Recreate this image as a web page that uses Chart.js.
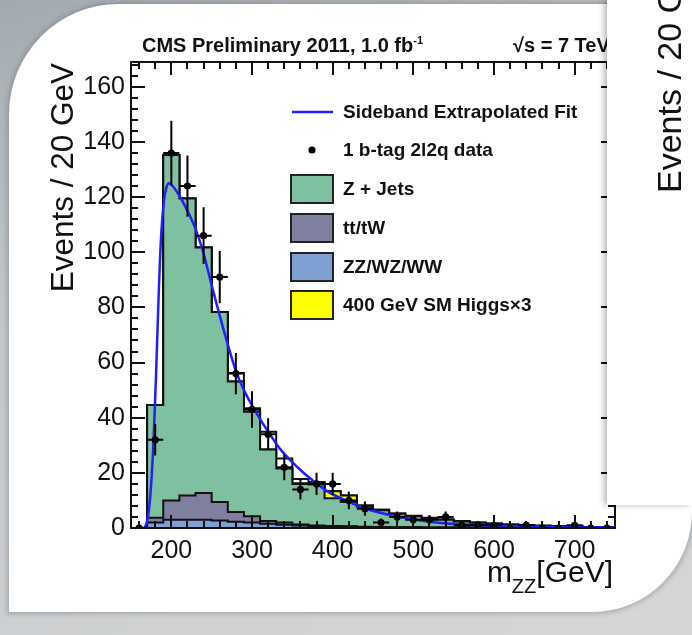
<!DOCTYPE html>
<html>
<head>
<meta charset="utf-8">
<script src="https://cdn.jsdelivr.net/npm/chart.js@4.4.0/dist/chart.umd.min.js"></script>
<style>
html,body{margin:0;padding:0;width:692px;height:635px;overflow:hidden;}
body{position:relative;background:linear-gradient(160deg,#a3aaaf 0%,#c3c7ca 35%,#d6d7d8 100%);font-family:"Liberation Sans",Arial,sans-serif;}
#card{position:absolute;left:9px;top:4px;width:683px;height:608px;background:#fff;border-top-left-radius:110px;border-bottom-right-radius:100px;box-shadow:0 0 5px 2px rgba(90,95,100,0.35);}
#c{position:absolute;left:0;top:0;}
#side{position:absolute;left:607px;top:0;width:85px;height:505px;background:#fff;box-shadow:-3px 0 6px rgba(0,0,0,0.28);overflow:hidden;}
#side span{position:absolute;left:45px;top:-80px;height:273px;font-size:34px;line-height:34px;writing-mode:vertical-rl;transform:rotate(180deg);color:#111;white-space:nowrap;}
</style>
</head>
<body>
<div id="card"></div>
<canvas id="c" width="692" height="635" style="width:692px;height:635px"></canvas>
<div id="side"><span>Events / 20 GeV</span></div>
<script>
// ---------- data ----------
const xTickLabels = [200, 300, 400, 500, 600, 700];
const yTickLabels = [0, 20, 40, 60, 80, 100, 120, 140, 160];

// histogram bins (lower edges), 20 GeV wide
const binLow = [170,190,210,230,250,270,290,310,330,350,370,390,410,430,450,470,490,510,530,550,570,590,610,630,650,670,690,710,730];
const zzWzWw = [2.0,3.0,3.0,3.0,2.7,2.3,2.0,1.5,1.2,0.9,0.7,0.6,0.5,0.4,0.35,0.3,0.25,0.2,0.2,0.15,0.1,0.1,0.1,0.1,0.05,0.05,0.05,0.05,0.05];
const ttTw   = [1.7,7.0,8.8,9.7,6.7,3.5,2.3,1.0,0.8,0.4,0.2,0.1,0.1,0.05,0.05,0,0,0,0,0,0,0,0,0,0,0,0,0,0];
const zJets  = [40.9,125.3,107.7,89.0,68.9,47.3,37.9,26.0,19.6,14.7,14.9,10.1,8.8,7.25,6.0,4.9,4.05,3.4,2.8,2.25,1.8,1.4,1.1,0.9,0.75,0.55,0.45,0.35,0.25];
const higgs  = [0,0,0,0,0,0,0,0,0,0.2,0.5,2.5,2.4,0.5,0.2,0,0,0,0,0,0,0,0,0,0,0,0,0,0];
const totalOutline = [44.6,135.3,119.5,101.7,78.3,56.2,43.4,34.9,25.2,17.8,16.7,13.3,11.8,8.2,6.6,5.3,4.4,3.7,3.1,2.5,2.0,1.6,1.3,1.0,0.8,0.65,0.5,0.4,0.3];

// data points
const dataMass   = [160,180,200,220,240,260,280,300,320,340,360,380,400,420,440,460,480,500,520,540,560,580,600,620,640,660,680,700,720,740];
const dataEvents = [0,32,136,124,106,91,56,43,34,22,14,16,16,10,7,2,4,3,3,4,1,1,1,0,1,0,0,1,0,0];
const dataErr    = [0,5.7,11.7,11.1,10.3,9.5,7.5,6.6,5.8,4.7,3.7,4,4,3.2,2.6,1.4,2,1.7,1.7,2,1,1,1,0,1,0,0,1,0,0];

// sideband extrapolated fit curve
const fitMass   = [166,169,172,175,178,181,184,187,191,194,197,200,210,220,230,240,250,260,270,280,290,300,310,320,335,355,375,395,415,435,455,480,520,560,600,650,700,750];
const fitEvents = [0,1.5,6,16,32,55,82,104,119,123.5,125,124.5,120.5,115,108.5,99.5,88,77,66.5,57,50,44.5,39.5,35,28.6,22.4,17.3,13,10.2,7.6,5.8,4.2,2.3,1.3,0.8,0.5,0.3,0.2];

// ---------- styling ----------
const FONT = '"Liberation Sans", Arial, Helvetica, sans-serif';
const C_ZJ = '#7fc0a0', C_TT = '#7f7f9f', C_ZZ = '#7fa0d2', C_H = '#ffff00', C_FIT = '#1f1fff';
const BIN_W = 20;

// build step tables
function cumulative(...arrs) {
  return arrs[0].map((_, i) => arrs.reduce((s, a) => s + a[i], 0));
}
function steps(vals) {
  const pts = [{x: binLow[0], y: 0}];
  vals.forEach((v, i) => pts.push({x: binLow[i], y: v}));
  const last = binLow[binLow.length - 1] + BIN_W;
  pts.push({x: last, y: vals[vals.length - 1]});
  pts.push({x: last, y: 0});
  return pts;
}
const cumZZ = zzWzWw;
const cumTT = cumulative(zzWzWw, ttTw);
const cumZJ = cumulative(zzWzWw, ttTw, zJets);
const cumH  = cumulative(zzWzWw, ttTw, zJets, higgs);

function histDS(label, vals, color) {
  return {label, data: steps(vals), stepped: true, fill: 'origin', backgroundColor: color,
          borderColor: '#111', borderWidth: 2, pointRadius: 0, tension: 0};
}

const datasets = [
  {label: '1 b-tag 2l2q data', data: dataMass.map((m, i) => ({x: m, y: dataEvents[i]})),
   showLine: false, pointRadius: 3.6, pointBackgroundColor: '#000', pointBorderWidth: 0, borderColor: '#000'},
  {label: 'Sideband Extrapolated Fit', data: fitMass.map((m, i) => ({x: m, y: fitEvents[i]})),
   borderColor: C_FIT, borderWidth: 2.5, pointRadius: 0, cubicInterpolationMode: 'monotone', fill: false},
  histDS('ZZ/WZ/WW', cumZZ, C_ZZ),
  histDS('tt/tW', cumTT, C_TT),
  histDS('Z + Jets', cumZJ, C_ZJ),
  histDS('400 GeV SM Higgs\u00d73', cumH, C_H),
  histDS('', totalOutline, '#ffffff')
];

// ---------- plugins ----------
const errorBars = {
  id: 'errorBars',
  afterDatasetsDraw(chart) {
    const {ctx, chartArea: a, scales: {x, y}} = chart;
    ctx.save();
    ctx.beginPath(); ctx.rect(a.left, a.top, a.right - a.left, a.bottom - a.top); ctx.clip();
    ctx.strokeStyle = '#000'; ctx.lineWidth = 2;
    dataMass.forEach((m, i) => {
      const e = dataErr[i];
      if (e <= 0) return;
      const px = x.getPixelForValue(m), py = y.getPixelForValue(dataEvents[i]);
      ctx.beginPath();
      ctx.moveTo(px, y.getPixelForValue(dataEvents[i] - e));
      ctx.lineTo(px, y.getPixelForValue(dataEvents[i] + e));
      ctx.moveTo(x.getPixelForValue(m - BIN_W / 2), py);
      ctx.lineTo(x.getPixelForValue(m + BIN_W / 2), py);
      ctx.stroke();
    });
    ctx.restore();
  }
};

const frame = {
  id: 'frame',
  afterDraw(chart) {
    const {ctx, chartArea: a, scales: {x, y}} = chart;
    ctx.save();
    ctx.strokeStyle = '#111'; ctx.lineWidth = 2;
    ctx.strokeRect(a.left, a.top, a.right - a.left, a.bottom - a.top);
    ctx.beginPath();
    for (let v = 160; v < 750; v += 20) {
      const major = v % 100 === 0;
      const L = major ? 13 : 7;
      const px = Math.round(x.getPixelForValue(v));
      ctx.moveTo(px, a.bottom); ctx.lineTo(px, a.bottom - L);
      ctx.moveTo(px, a.top); ctx.lineTo(px, a.top + L);
    }
    for (let v = 4; v < 169; v += 4) {
      const major = v % 20 === 0;
      const L = major ? 14 : 7;
      const py = Math.round(y.getPixelForValue(v));
      ctx.moveTo(a.left, py); ctx.lineTo(a.left + L, py);
      ctx.moveTo(a.right, py); ctx.lineTo(a.right - L, py);
    }
    ctx.stroke();
    ctx.restore();
  }
};

const texts = {
  id: 'texts',
  afterDraw(chart) {
    const {ctx} = chart;
    ctx.save();
    ctx.fillStyle = '#111';
    ctx.textBaseline = 'alphabetic';
    // header
    ctx.font = 'bold 20px ' + FONT;
    ctx.textAlign = 'left';
    ctx.fillText('CMS Preliminary 2011, 1.0 fb', 142, 52);
    const w = ctx.measureText('CMS Preliminary 2011, 1.0 fb').width;
    ctx.font = 'bold 11px ' + FONT;
    ctx.fillText('-1', 142 + w, 44);
    ctx.font = 'bold 20px ' + FONT;
    ctx.fillText('\u221As = 7 TeV', 513, 52);
    // y title
    ctx.save();
    ctx.translate(73, 63);
    ctx.rotate(-Math.PI / 2);
    ctx.font = '31.5px ' + FONT;
    ctx.textAlign = 'right';
    ctx.fillText('Events / 20 GeV', 0, 0);
    ctx.restore();
    // x title  m_ZZ [GeV]
    ctx.textAlign = 'right';
    ctx.font = '30px ' + FONT;
    let xr = 613;
    ctx.fillText('[GeV]', xr, 582);
    xr -= ctx.measureText('[GeV]').width;
    ctx.font = '20px ' + FONT;
    ctx.fillText('ZZ', xr, 593);
    xr -= ctx.measureText('ZZ').width;
    ctx.font = '30px ' + FONT;
    ctx.fillText('m', xr, 582);
    ctx.restore();
  }
};

const legendOrder = ['Sideband Extrapolated Fit', '1 b-tag 2l2q data', 'Z + Jets', 'tt/tW', 'ZZ/WZ/WW', '400 GeV SM Higgs\u00d73'];
const insideLegend = {
  id: 'insideLegend',
  afterDraw(chart) {
    const {ctx} = chart;
    const rows = [112, 150, 189, 228, 267, 305];
    ctx.save();
    ctx.font = 'bold 19px ' + FONT;
    ctx.textBaseline = 'middle';
    ctx.textAlign = 'left';
    legendOrder.forEach((lab, i) => {
      const ds = chart.data.datasets.find(d => d.label === lab);
      const yc = rows[i];
      if (lab === 'Sideband Extrapolated Fit') {
        ctx.strokeStyle = ds.borderColor; ctx.lineWidth = 2.5;
        ctx.beginPath(); ctx.moveTo(292, yc); ctx.lineTo(333, yc); ctx.stroke();
      } else if (lab === '1 b-tag 2l2q data') {
        ctx.fillStyle = '#000';
        ctx.beginPath(); ctx.arc(312, yc, 3.6, 0, Math.PI * 2); ctx.fill();
      } else {
        ctx.fillStyle = ds.backgroundColor;
        ctx.fillRect(291, yc - 14, 42, 28);
        ctx.strokeStyle = '#222'; ctx.lineWidth = 2;
        ctx.strokeRect(291, yc - 14, 42, 28);
      }
      ctx.fillStyle = '#111';
      ctx.fillText(lab, 343, yc + 1);
    });
    ctx.restore();
  }
};

new Chart(document.getElementById('c'), {
  type: 'line',
  data: {datasets},
  options: {
    responsive: false,
    animation: false,
    devicePixelRatio: 1,
    layout: {padding: {top: 62, right: 77, left: 0, bottom: 0}},
    plugins: {legend: {display: false}, tooltip: {enabled: false}, title: {display: false}},
    scales: {
      x: {
        type: 'linear', min: 150, max: 750,
        grid: {display: false, drawTicks: false}, border: {display: false},
        ticks: {font: {family: FONT, size: 25}, color: '#111', padding: 8, maxRotation: 0, autoSkip: false},
        afterBuildTicks: s => { s.ticks = xTickLabels.map(v => ({value: v})); },
        afterFit: s => { s.height = 107; }
      },
      y: {
        type: 'linear', min: 0, max: 169,
        grid: {display: false, drawTicks: false}, border: {display: false},
        ticks: {font: {family: FONT, size: 25}, color: '#111', padding: 6, autoSkip: false},
        afterBuildTicks: s => { s.ticks = yTickLabels.map(v => ({value: v})); },
        afterFit: s => { s.width = 131; }
      }
    }
  },
  plugins: [errorBars, frame, texts, insideLegend]
});
</script>
</body>
</html>
